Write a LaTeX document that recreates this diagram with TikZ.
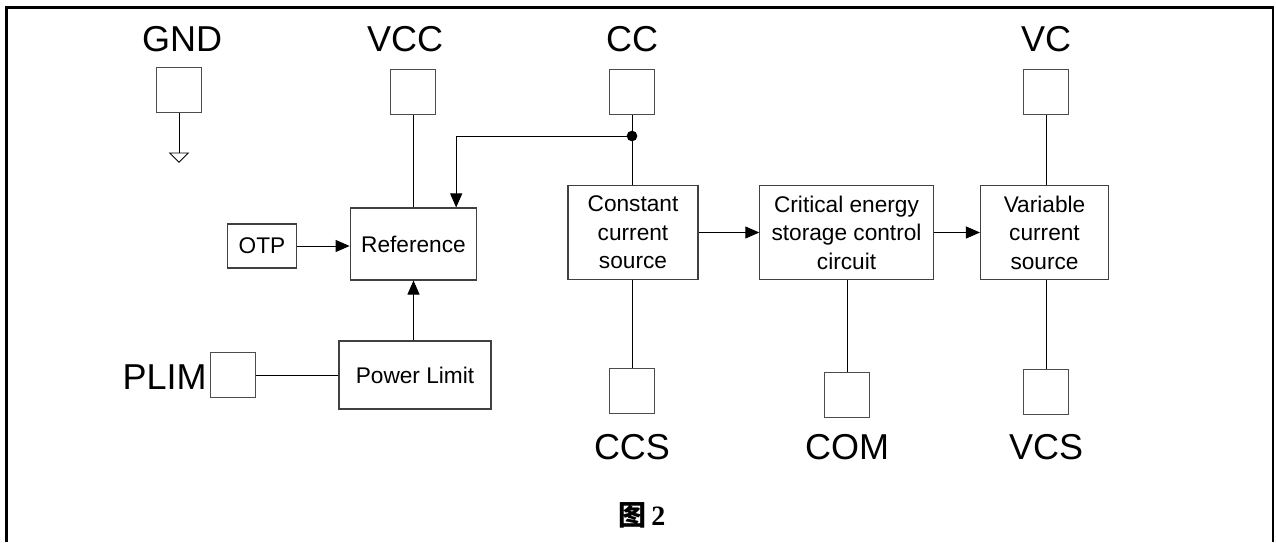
\documentclass[tikz,border=0pt]{standalone}
\usepackage{fontspec}
\setmainfont{Liberation Sans}
\newfontfamily\cjk{Noto Sans CJK SC}
\newfontfamily\capfont{Liberation Serif}
\usetikzlibrary{arrows.meta}

\begin{document}
\begin{tikzpicture}[x=0.75pt,y=-0.75pt,
    pad/.style={draw=black!70,line width=0.8pt,minimum size=34pt,inner sep=0pt},
    blk/.style={draw=black!75,line width=0.8pt,inner sep=0pt,align=center,
                font=\fontsize{17}{21.4}\selectfont},
    pinlab/.style={font=\fontsize{27}{30}\selectfont,inner sep=0pt},
    wire/.style={line width=0.7pt},
    arr/.style={line width=0.7pt,-{Triangle[length=10.5pt,width=9pt]}}]

                \useasboundingbox (0,0) rectangle (1276,542);

                % Frame (open at the bottom)
                \coordinate (fbl) at (6.5,542);
                \coordinate (ftl) at (6.5,7.5);
                \coordinate (ftr) at (1273,7.5);
                \coordinate (fbr) at (1273,542);
                \draw[line width=2pt] (fbl) -- (ftl) -- (ftr) -- (fbr);

                % Pins on top
                \node[pinlab] (gndlab) at (182,39) {GND};
                \node[pad] (gndpad) at (179,90) {};
                \node[pinlab] (vcclab) at (405,39) {VCC};
                \node[pad] (vccpad) at (413,92) {};
                \node[pinlab] (cclab) at (632,39) {CC};
                \node[pad] (ccpad) at (632,92) {};
                \node[pinlab] (vclab) at (1046,39) {VC};
                \node[pad] (vcpad) at (1046,92) {};

                % Ground symbol
                \coordinate (gndtip) at (179,153);
                \draw[wire] (gndpad.south) -- (gndtip);
                \draw[wire] ([xshift=-7pt]gndtip) -- ([xshift=7pt]gndtip)
                            -- ([yshift=-7pt]gndtip) -- cycle;

                % Blocks
                \node[blk,minimum width=52pt,minimum height=33pt] (otp) at (262,246) {OTP};
                \node[blk,minimum width=95pt,minimum height=54pt] (ref) at (413.5,244) {Reference};
                \node[blk,minimum width=114pt,minimum height=51pt] (plim) at (415,375) {Power Limit};
                \node[blk,minimum width=97.5pt,minimum height=70pt] (ccsrc) at (633,232.5)
                      {Constant\\current\\source};
                \node[blk,minimum width=130pt,minimum height=70pt] (cecc) at (846.5,232.5)
                      {Critical energy\\storage control\\circuit};
                \node[blk,minimum width=96pt,minimum height=70pt] (vcsrc) at (1044.5,232.5)
                      {Variable\\current\\source};

                % Pins at the bottom
                \node[pad] (plimpad) at (233,375) {};
                \node[pinlab,anchor=east] (plimlab) at (207,377) {PLIM};
                \node[pad] (ccspad) at (632,391) {};
                \node[pinlab] (ccslab) at (632,447) {CCS};
                \node[pad] (compad) at (847,395) {};
                \node[pinlab] (comlab) at (847,447) {COM};
                \node[pad] (vcspad) at (1046,392) {};
                \node[pinlab] (vcslab) at (1046,447) {VCS};

                % Wires
                \draw[wire] (vccpad.south) -- (vccpad.south |- ref.north);
                \draw[wire] (ccpad.south) -- (ccpad.south |- ccsrc.north);
                \draw[wire] (vcpad.south) -- (vcpad.south |- vcsrc.north);
                \draw[wire] (plimpad.east) -- (plimpad.east -| plim.west);
                \draw[wire] (ccspad.north |- ccsrc.south) -- (ccspad.north);
                \draw[wire] (compad.north |- cecc.south) -- (compad.north);
                \draw[wire] (vcspad.north |- vcsrc.south) -- (vcspad.north);

                % Junction and feedback to the reference
                \coordinate (jn) at (ccpad.south |- 0,136);
                \fill (jn) circle (4pt);
                \draw[arr] (jn) -| ([xshift=32pt]ref.north);

                % Arrows
                \draw[arr] (otp.east) -- (otp.east -| ref.west);
                \draw[arr] (ref.south |- plim.north) -- (ref.south);
                \draw[arr] (ccsrc.east) -- (cecc.west);
                \draw[arr] (cecc.east) -- (vcsrc.west);

                % Caption
                \node[font=\fontsize{21}{24}\selectfont] (cap) at (642,515)
                      {{\cjk\bfseries 图}\,{\capfont\bfseries 2}};

\end{tikzpicture}
\end{document}
